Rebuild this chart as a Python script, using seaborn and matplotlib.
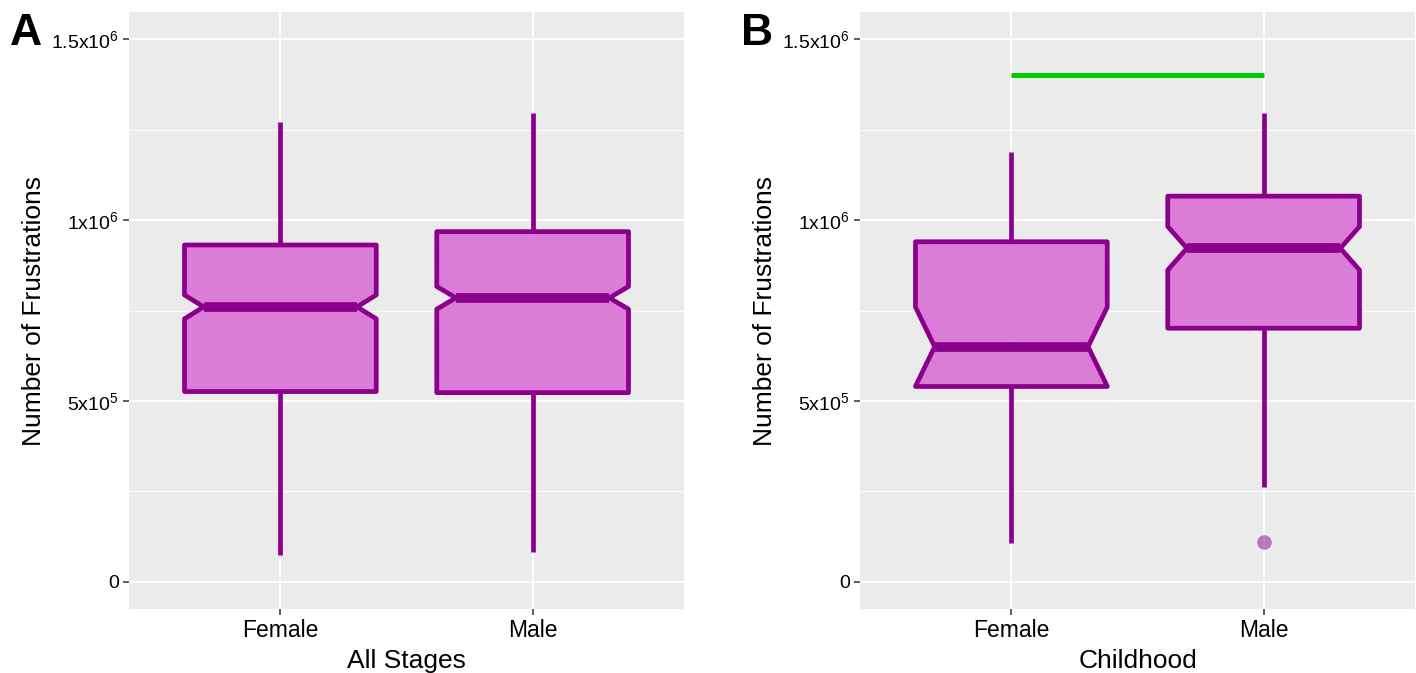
import numpy as np
import pandas as pd
import matplotlib
matplotlib.use("Agg")
import matplotlib.pyplot as plt
from matplotlib.ticker import FixedLocator, FixedFormatter, MultipleLocator
from matplotlib.colors import to_rgba
import seaborn as sns

# ---------------- data ----------------
categories = ["Female", "Male"]

# Panel A: All Stages
a_whislo = [0.075e6, 0.083e6]
a_q1 = [0.526e6, 0.523e6]
a_med = [0.760e6, 0.785e6]
a_q3 = [0.931e6, 0.968e6]
a_whishi = [1.271e6, 1.296e6]
a_n = [371, 500]
a_outliers = [[], []]

# Panel B: Childhood
b_whislo = [0.108e6, 0.263e6]
b_q1 = [0.540e6, 0.701e6]
b_med = [0.650e6, 0.922e6]
b_q3 = [0.940e6, 1.066e6]
b_whishi = [1.188e6, 1.296e6]
b_n = [33, 91]
b_outliers = [[], [0.110e6]]

# significance bar in panel B
sig_pair = ["Female", "Male"]
sig_y = 1.40e6

ytick_values = [0, 5e5, 1e6, 1.5e6]
ytick_labels = ["0", r"$\mathrm{5x10^{5}}$", r"$\mathrm{1x10^{6}}$", r"$\mathrm{1.5x10^{6}}$"]
panel_letters = ["A", "B"]
x_titles = ["All Stages", "Childhood"]
y_title = "Number of Frustrations"


def build_table(whislo, q1, med, q3, whishi, n, outliers):
    """Expand the read summary statistics into a sample table whose
    quartiles, whiskers, outliers and size reproduce them."""
    rows = []
    for i, cat in enumerate(categories):
        low = list(outliers[i]) + [whislo[i]]
        e = len(low)
        high = [whishi[i]] * e
        a = n[i] // 3
        b = n[i] - 2 * e - 2 * a
        vals = low + [q1[i]] * a + [med[i]] * b + [q3[i]] * a + high
        rows += [(cat, v) for v in vals]
    return pd.DataFrame(rows, columns=["group", "value"])


df_a = build_table(a_whislo, a_q1, a_med, a_q3, a_whishi, a_n, a_outliers)
df_b = build_table(b_whislo, b_q1, b_med, b_q3, b_whishi, b_n, b_outliers)

# ---------------- style ----------------
sns.set_theme(style="darkgrid")
plt.rcParams["font.family"] = ["Liberation Sans", "DejaVu Sans"]
plt.rcParams["mathtext.fontset"] = "custom"
plt.rcParams["mathtext.rm"] = "Liberation Sans"
plt.rcParams["mathtext.it"] = "Liberation Sans:italic"
plt.rcParams["mathtext.bf"] = "Liberation Sans:bold"

edge_col = "#8B008B"
fill_col = to_rgba("#DA70D6", 0.9)
flier_col = to_rgba("#8B008B", 0.5)
panel_bg = "#EBEBEB"

W, H = 1416, 673
fig = plt.figure(figsize=(W / 100, H / 100), dpi=100)

axes_px = [(129, 12, 555, 597), (860, 12, 555, 597)]

for k, df in enumerate([df_a, df_b]):
    x0, y0, w, h = axes_px[k]
    ax = fig.add_axes([x0 / W, 1 - (y0 + h) / H, w / W, h / H])
    ax.set_facecolor(panel_bg)
    ax.set_axisbelow(True)

    box_w = 0.76
    sns.boxplot(
        data=df, x="group", y="value", order=categories, ax=ax,
        width=box_w, notch=True, showcaps=False, saturation=1,
        color="#DA70D6", linecolor=edge_col, linewidth=3.4, whis=1.5,
        fliersize=10.5,
        medianprops=dict(linewidth=7.0, color=edge_col),
        whiskerprops=dict(linewidth=3.4, color=edge_col),
        flierprops=dict(marker="o", markerfacecolor=flier_col,
                        markeredgecolor="none", markersize=10.5),
    )

    # ggplot-like notch depth (notch point at 80% of box width)
    for p in ax.patches:
        path = p.get_path()
        v = path.vertices
        if len(v) >= 11:
            xmin, xmax = v[:, 0].min(), v[:, 0].max()
            c = (xmin + xmax) / 2
            ww = xmax - xmin
            v[3, 0] = c + 0.4 * ww
            v[8, 0] = c - 0.4 * ww
        p.set_facecolor(fill_col)
        p.set_edgecolor(edge_col)
        p.set_linewidth(3.4)
        p.set_joinstyle("round")
    for ln in ax.lines:
        xd = np.asarray(ln.get_xdata(), float)
        yd = np.asarray(ln.get_ydata(), float)
        if len(xd) == 2 and yd[0] == yd[1] and xd[0] != xd[1]:
            c = xd.mean()
            half = (xd[1] - xd[0]) / 2 * 1.6
            ln.set_xdata([c - half, c + half])

    if k == 1:
        xs = [categories.index(s) for s in sig_pair]
        ax.plot(xs, [sig_y, sig_y], color="#00CC00", lw=3.6,
                solid_capstyle="butt", zorder=5)

    ax.set_xlim(-0.6, 1.6)
    ax.set_ylim(-0.075e6, 1.575e6)

    ax.yaxis.set_major_locator(FixedLocator(ytick_values))
    ax.yaxis.set_major_formatter(FixedFormatter(ytick_labels))
    ax.yaxis.set_minor_locator(MultipleLocator(2.5e5))

    ax.grid(True, which="major", axis="both", color="white", lw=1.4)
    ax.grid(True, which="minor", axis="y", color="white", lw=0.7)
    ax.xaxis.grid(True, which="major", color="white", lw=1.4)

    for s in ax.spines.values():
        s.set_visible(False)

    ax.tick_params(axis="both", which="major", length=4.3, width=1.1,
                   color="#333333", bottom=True, left=True)
    ax.tick_params(axis="y", which="minor", length=0, left=False)
    ax.tick_params(axis="x", labelsize=16.5, pad=3, labelcolor="black")
    ax.tick_params(axis="y", labelsize=14, pad=3, labelcolor="black")

    ax.set_xlabel(x_titles[k], fontsize=19, labelpad=5, color="black")
    ax.set_ylabel(y_title, fontsize=19, labelpad=4, color="black")

    fig.text((x0 - 119) / W, 1 - 45 / H, panel_letters[k], fontsize=32,
             fontweight="bold", ha="left", va="baseline", color="black")

fig.savefig("out.png", dpi=100, facecolor="white")
